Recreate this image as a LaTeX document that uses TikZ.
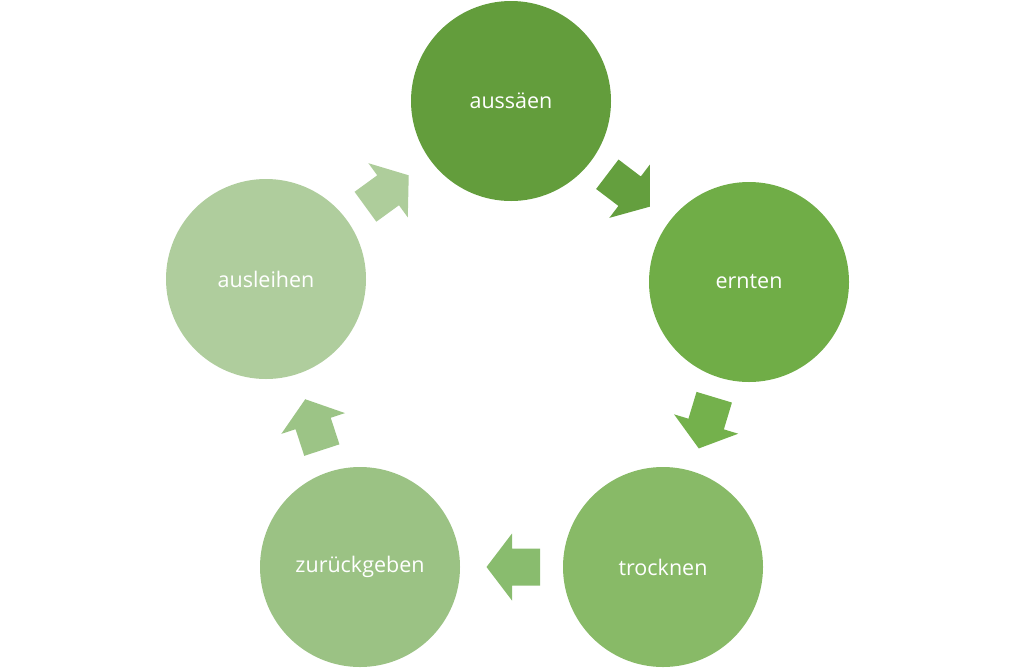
\documentclass[tikz,border=0pt]{standalone}
\usepackage{fontspec}
\setmainfont{Open Sans}
\usetikzlibrary{calc}
\definecolor{cA}{RGB}{99,157,60}
\definecolor{cB}{RGB}{112,173,71}
\definecolor{cC}{RGB}{136,186,103}
\definecolor{cD}{RGB}{155,194,132}
\definecolor{cE}{RGB}{175,205,157}
\definecolor{aA}{RGB}{100,159,62}
\definecolor{aB}{RGB}{116,177,76}
\definecolor{aC}{RGB}{137,188,110}
\definecolor{aD}{RGB}{156,196,134}
\definecolor{aE}{RGB}{174,205,155}
\newcommand\cyclearrow[3]{%
  \fill[#3] let \p1=(#1.center), \p2=(#2.center), \n1={atan2(\y2-\y1,\x2-\x1)} in
    [shift={($(#1.center)!0.5!(#2.center)$)}, rotate=\n1]
    (-28.5,-18.5) -- (-0.5,-18.5) -- (-0.5,-33.5) -- (25,0) -- (-0.5,33.5) -- (-0.5,18.5) -- (-28.5,18.5) -- cycle;}
\begin{document}
\begin{tikzpicture}[x=1pt,y=-1pt,
  circ/.style={circle, minimum size=200pt, inner sep=0pt, text=white,
    font=\fontsize{21.5}{26}\selectfont}]
\useasboundingbox (0,0) rectangle (1024,670);
\node[circ, fill=cA] (a) at (511,101) {aussäen};
\node[circ, fill=cB] (b) at (749,282) {ernten};
\node[circ, fill=cC] (c) at (663,567) {trocknen};
\node[circ, fill=cD] (d) at (360,567) {zurückgeben};
\node[circ, fill=cE] (e) at (266,279) {ausleihen};
\cyclearrow{a}{b}{aA}
\cyclearrow{b}{c}{aB}
\cyclearrow{c}{d}{aC}
\cyclearrow{d}{e}{aD}
\cyclearrow{e}{a}{aE}
\end{tikzpicture}
\end{document}
